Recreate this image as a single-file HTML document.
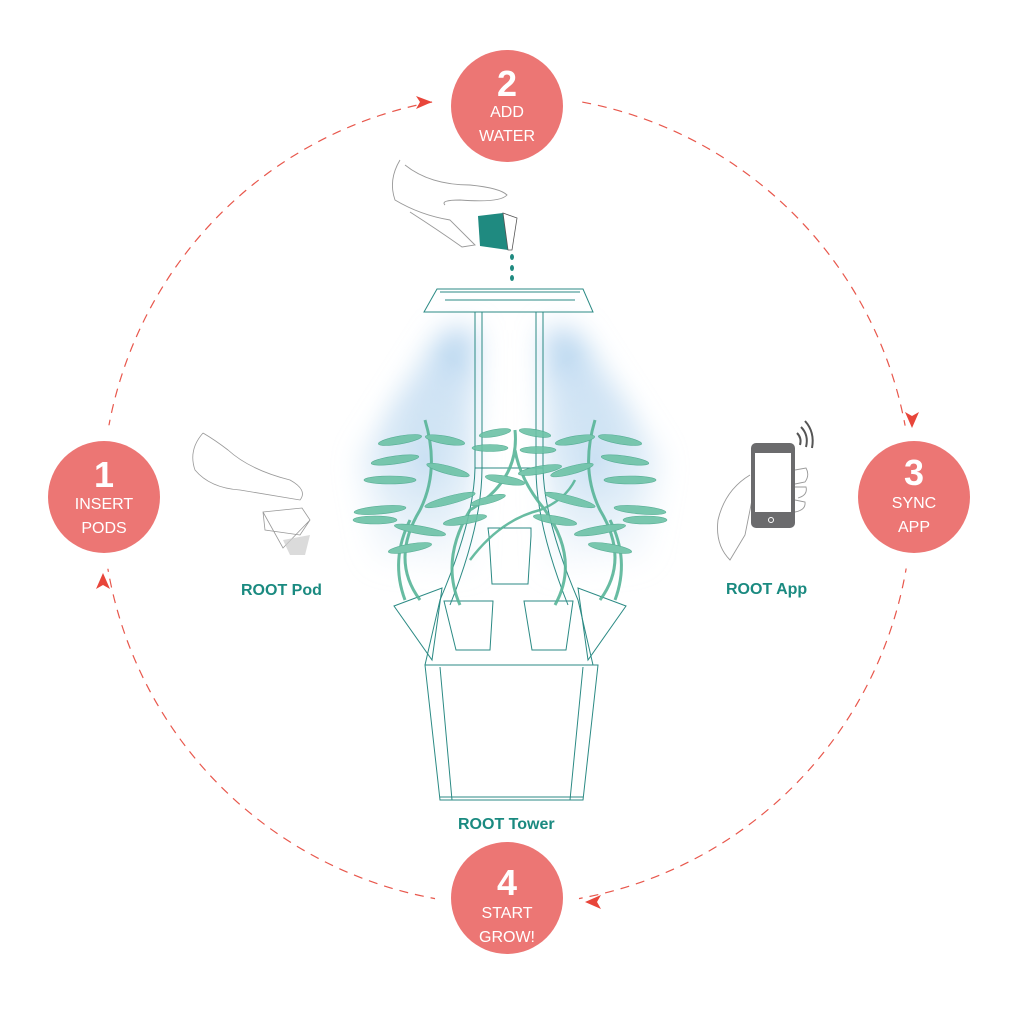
<!DOCTYPE html>
<html><head><meta charset="utf-8"><style>
html,body{margin:0;padding:0;background:#fff;}
svg{display:block;}
text{font-family:"Liberation Sans",sans-serif;}
</style></head><body>
<svg width="1009" height="1009" viewBox="0 0 1009 1009" xmlns="http://www.w3.org/2000/svg">
<defs>
<radialGradient id="gl" cx="0.5" cy="0.5" r="0.5">
<stop offset="0" stop-color="#b9d6ee" stop-opacity="0.9"/>
<stop offset="0.6" stop-color="#d6e7f5" stop-opacity="0.5"/>
<stop offset="1" stop-color="#ffffff" stop-opacity="0"/>
</radialGradient>
<linearGradient id="bl" x1="0" y1="0" x2="0" y2="1">
<stop offset="0" stop-color="#a9cdec" stop-opacity="0.9"/>
<stop offset="1" stop-color="#d9e9f6" stop-opacity="0.2"/>
</linearGradient>
<filter id="bf" x="-50%" y="-50%" width="200%" height="200%"><feGaussianBlur stdDeviation="14"/></filter>
</defs>
<circle cx="507" cy="500" r="405" fill="none" stroke="#e8574c" stroke-width="1.2" stroke-dasharray="9 7"/>
<g fill="#fff">
<circle cx="507" cy="106" r="72"/><circle cx="104" cy="497" r="72"/>
<circle cx="914" cy="497" r="72"/><circle cx="507" cy="898" r="72"/>
</g>
<g fill="#e8453a">
<path d="M416 96 L432 102 L416 109 L420 102Z"/>
<path d="M905 412 L912 428 L919 412 L912 416Z"/>
<path d="M601 895 L585 902 L601 909 L597 902Z"/>
<path d="M96 589 L103 573 L110 589 L103 585Z"/>
</g>
<!-- glow beams -->
<g filter="url(#bf)">
<path d="M445 330 L475 330 L472 570 L375 560 L360 460 Z" fill="url(#bl)"/>
<path d="M545 330 L575 330 L660 460 L645 560 L548 570 Z" fill="url(#bl)"/>
</g>
<ellipse cx="425" cy="460" rx="70" ry="110" fill="url(#gl)" opacity="0.6"/>
<ellipse cx="595" cy="460" rx="70" ry="110" fill="url(#gl)" opacity="0.6"/>
<g fill="none" stroke="#2b8a84" stroke-width="1">
<path d="M424 312 L437 289 L583 289 L593 312 Z"/>
<path d="M440 292 L580 292 M445 300 L575 300"/>
<path d="M475 312 L475 468 Q474 520 440 600 L425 665 M482 312 L482 468 Q482 525 450 605"/>
<path d="M543 312 L543 468 Q544 520 578 600 L593 665 M536 312 L536 468 Q536 525 568 605"/>
<path d="M475 468 L543 468"/>
<path d="M425 665 L598 665 L583 800 L440 800 Z"/>
<path d="M440 667 L452 800 M583 667 L570 800 M440 797 L583 797"/>
<path d="M488 528 L531 528 L531 536 L528 584 L492 584 L489 536 Z"/>
<path d="M444 601 L493 601 L490 650 L456 650 Z"/>
<path d="M524 601 L573 601 L566 650 L532 650 Z"/>
<path d="M394 606 L442 588 L432 660 Z"/>
<path d="M626 606 L578 588 L588 660 Z"/>
</g>
<g fill="#6cc2a6" stroke="#4aa88c" stroke-width="0.6" opacity="0.9">
<path d="M420 600 Q390 560 420 510 Q440 470 425 420" fill="none" stroke="#58b598" stroke-width="3"/>
<path d="M600 600 Q630 560 600 510 Q580 470 595 420" fill="none" stroke="#58b598" stroke-width="3"/>
<path d="M460 605 Q440 560 470 510 Q520 480 515 430" fill="none" stroke="#58b598" stroke-width="3"/>
<path d="M555 605 Q580 560 545 510 Q520 480 515 450" fill="none" stroke="#58b598" stroke-width="3"/>
<path d="M405 600 Q390 560 410 520" fill="none" stroke="#58b598" stroke-width="3"/>
<path d="M615 600 Q630 560 610 520" fill="none" stroke="#58b598" stroke-width="3"/>
<path d="M470 560 Q500 520 540 510 Q565 500 575 480" fill="none" stroke="#58b598" stroke-width="2.5"/>
<ellipse cx="400" cy="440" rx="22" ry="4" transform="rotate(-10 400 440)"/>
<ellipse cx="445" cy="440" rx="20" ry="4" transform="rotate(10 445 440)"/>
<ellipse cx="395" cy="460" rx="24" ry="4" transform="rotate(-8 395 460)"/>
<ellipse cx="390" cy="480" rx="26" ry="4"/>
<ellipse cx="448" cy="470" rx="22" ry="4" transform="rotate(15 448 470)"/>
<ellipse cx="380" cy="510" rx="26" ry="4" transform="rotate(-5 380 510)"/>
<ellipse cx="450" cy="500" rx="26" ry="4" transform="rotate(-15 450 500)"/>
<ellipse cx="375" cy="520" rx="22" ry="4"/>
<ellipse cx="420" cy="530" rx="26" ry="4" transform="rotate(10 420 530)"/>
<ellipse cx="465" cy="520" rx="22" ry="4" transform="rotate(-10 465 520)"/>
<ellipse cx="410" cy="548" rx="22" ry="4" transform="rotate(-10 410 548)"/>
<ellipse cx="620" cy="440" rx="22" ry="4" transform="rotate(10 620 440)"/>
<ellipse cx="575" cy="440" rx="20" ry="4" transform="rotate(-10 575 440)"/>
<ellipse cx="625" cy="460" rx="24" ry="4" transform="rotate(8 625 460)"/>
<ellipse cx="630" cy="480" rx="26" ry="4"/>
<ellipse cx="572" cy="470" rx="22" ry="4" transform="rotate(-15 572 470)"/>
<ellipse cx="640" cy="510" rx="26" ry="4" transform="rotate(5 640 510)"/>
<ellipse cx="570" cy="500" rx="26" ry="4" transform="rotate(15 570 500)"/>
<ellipse cx="645" cy="520" rx="22" ry="4"/>
<ellipse cx="600" cy="530" rx="26" ry="4" transform="rotate(-10 600 530)"/>
<ellipse cx="555" cy="520" rx="22" ry="4" transform="rotate(10 555 520)"/>
<ellipse cx="610" cy="548" rx="22" ry="4" transform="rotate(10 610 548)"/>
<ellipse cx="495" cy="433" rx="16" ry="3.5" transform="rotate(-10 495 433)"/>
<ellipse cx="535" cy="433" rx="16" ry="3.5" transform="rotate(10 535 433)"/>
<ellipse cx="490" cy="448" rx="18" ry="3.5"/>
<ellipse cx="538" cy="450" rx="18" ry="3.5"/>
<ellipse cx="505" cy="480" rx="20" ry="4" transform="rotate(10 505 480)"/>
<ellipse cx="540" cy="470" rx="22" ry="4" transform="rotate(-10 540 470)"/>
<ellipse cx="488" cy="500" rx="18" ry="3.5" transform="rotate(-15 488 500)"/>
</g>
<g fill="none" stroke="#999" stroke-width="0.9">
<path d="M400 160 Q388 180 395 200 Q420 215 450 220 L475 245 L462 247 Q438 230 410 212 M405 165 Q430 185 470 185 Q500 188 507 195 Q500 203 460 200 Q440 200 445 205"/>
</g>
<path d="M478 216 L503 213 L508 250 L480 246 Z" fill="#1f8a80"/>
<path d="M503 213 L517 218 L512 250 L508 250 Z" fill="none" stroke="#555" stroke-width="0.8"/>
<g fill="#1f8a80"><ellipse cx="512" cy="257" rx="2" ry="3"/><ellipse cx="512" cy="268" rx="2" ry="3"/><ellipse cx="512" cy="278" rx="2" ry="3"/></g>
<g fill="none" stroke="#999" stroke-width="0.8">
<path d="M203 433 Q188 450 195 470 Q210 488 240 490 Q270 495 300 500 Q308 490 290 480 Q250 470 228 450 Q215 440 203 433"/>
<path d="M263 512 L302 508 L310 520 L300 535 L265 530 Z M263 512 L283 548 L310 520"/>
</g>
<path d="M283 540 L310 535 L305 555 L290 555 Z" fill="#ccc" opacity="0.7"/>
<g fill="none" stroke="#999" stroke-width="0.9">
<path d="M750 475 Q725 490 718 520 Q715 545 730 560 L745 535 L752 500 M795 470 L806 468 Q810 475 805 482 L795 484 M795 487 L806 487 Q808 495 798 498 M795 500 L805 502 Q806 510 795 512"/>
</g>
<rect x="751" y="443" width="44" height="85" rx="5" fill="#6b6b6d"/>
<rect x="755" y="453" width="36" height="59" fill="#fff"/>
<circle cx="771" cy="520" r="2.5" fill="none" stroke="#fff" stroke-width="1"/>
<g fill="none" stroke="#555" stroke-width="2">
<path d="M797 433 Q802 438 800 445"/><path d="M801 427 Q809 435 806 447"/><path d="M805 421 Q815 432 812 448"/>
</g>
<g fill="#1a8a80" font-weight="bold" font-size="16">
<text x="241" y="595">ROOT Pod</text>
<text x="726" y="594">ROOT App</text>
<text x="458" y="829">ROOT Tower</text>
</g>
<g fill="#ec7674">
<circle cx="507" cy="106" r="56"/><circle cx="104" cy="497" r="56"/>
<circle cx="914" cy="497" r="56"/><circle cx="507" cy="898" r="56"/>
</g>
<g fill="#fff" text-anchor="middle">
<text x="507" y="96" font-size="36" font-weight="bold">2</text>
<text x="507" y="117" font-size="16">ADD</text>
<text x="507" y="141" font-size="16">WATER</text>
<text x="104" y="487" font-size="36" font-weight="bold">1</text>
<text x="104" y="509" font-size="16">INSERT</text>
<text x="104" y="533" font-size="16">PODS</text>
<text x="914" y="485" font-size="36" font-weight="bold">3</text>
<text x="914" y="508" font-size="16">SYNC</text>
<text x="914" y="532" font-size="16">APP</text>
<text x="507" y="895" font-size="36" font-weight="bold">4</text>
<text x="507" y="918" font-size="16">START</text>
<text x="507" y="942" font-size="16">GROW!</text>
</g>
</svg>
</body></html>
